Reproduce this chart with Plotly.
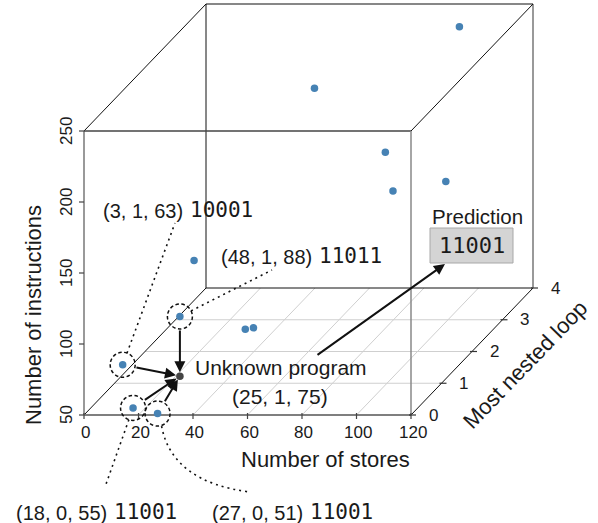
import math
import plotly.graph_objects as go

# ---------------- data ----------------
stores = [3, 18, 27, 24, 48, 51, 18, 51, 93, 77, 91, 88]
loops = [1, 0, 0, 1, 1, 1, 2, 3, 4, 3, 2, 4]
instrs = [63, 55, 51, 97, 88, 89, 114, 213, 234, 168, 163, 125]

unknown_stores = [24]
unknown_loops = [1]
unknown_instrs = [55]

x_ticks = [0, 20, 40, 60, 80, 100, 120]
y_ticks = [50, 100, 150, 200, 250]
z_ticks = [0, 1, 2, 3, 4]

neighbour_idx = [0, 3, 1, 2]
neighbour_tuple = ["(3, 1, 63)", "(48, 1, 88)", "(18, 0, 55)", "(27, 0, 51)"]
neighbour_code = ["10001", "11011", "11001", "11001"]
prediction_code = "11001"

# ---------------- projection (oblique) ----------------
W, H = 598, 523
SX, SY = 2.725, 1.42          # px per store / per instruction
OX, OY = 84, 415              # pixel of (0, 0, 50)
KX, KY = 30.5 / SX, 31.75 / SY  # loop-depth offset in data units


def proj(s, l, i):
    return s + l * KX, i + l * KY


def fx(px):
    return (px - OX) / SX


def fy(py):
    return 50 + (OY - py) / SY


def topx(s, l, i):
    X, Y = proj(s, l, i)
    return OX + X * SX, OY - (Y - 50) * SY


SANS = "Liberation Sans, Arial, Helvetica, sans-serif"
MONO = "DejaVu Sans Mono, Menlo, monospace"
TXT = "#1a1a1a"

fig = go.Figure()


def seg(p, q, color, width, dash="solid"):
    fig.add_trace(go.Scatter(x=[p[0], q[0]], y=[p[1], q[1]], mode="lines",
                             line=dict(color=color, width=width, dash=dash),
                             hoverinfo="skip", showlegend=False, cliponaxis=False))


# floor grid
for s in x_ticks[1:-1]:
    seg(proj(s, 0, 50), proj(s, 4, 50), "#cfcfcf", 1)
for l in z_ticks[1:-1]:
    seg(proj(0, l, 50), proj(120, l, 50), "#cfcfcf", 1.2)

# back / side edges
seg(proj(0, 4, 50), proj(0, 4, 250), "#111", 1)
seg(proj(0, 4, 250), proj(120, 4, 250), "#111", 1.2)
seg(proj(0, 4, 50), proj(120, 4, 50), "#111", 1)
seg(proj(120, 4, 50), proj(120, 4, 250), "#777", 1.5)
seg(proj(0, 0, 50), proj(0, 4, 50), "#111", 1)
seg(proj(120, 0, 50), proj(120, 4, 50), "#111", 1)
seg(proj(0, 0, 250), proj(0, 4, 250), "#111", 1)
seg(proj(120, 0, 250), proj(120, 4, 250), "#111", 1)

# front face
seg(proj(0, 0, 50), proj(120, 0, 50), "#555", 1.5)
seg(proj(0, 0, 50), proj(0, 0, 250), "#777", 1.5)
seg(proj(0, 0, 250), proj(120, 0, 250), "#444", 1.5)
seg(proj(120, 0, 50), proj(120, 0, 250), "#888", 1.5)

# ticks
for s in x_ticks:
    seg((s, 50 + 2 / SY), (s, 50 - 4 / SY), "#444", 1.2)
for i in y_ticks:
    seg((0, i), (-5 / SX, i), "#444", 1.2)
for l in z_ticks:
    X, Y = proj(120, l, 50)
    seg((X - 2 / SX, Y), (X + 5 / SX, Y), "#333", 1.2)

annotations = []


def text(px, py, t, size, font=SANS, angle=0, xanchor="center", color=TXT):
    annotations.append(dict(x=fx(px), y=fy(py), xref="x", yref="y", text=t,
                            showarrow=False, textangle=angle, xanchor=xanchor,
                            yanchor="middle",
                            font=dict(family=font, size=size, color=color)))


# tick labels
for s in x_ticks:
    px, _ = topx(s, 0, 50)
    text(px + 1.5, 432, str(s), 17)
for i in y_ticks:
    _, py = topx(0, 0, i)
    text(66, py, str(i), 17, angle=-90)
for l in z_ticks:
    px, py = topx(120, l, 50)
    text(px + 22, py, str(l), 17)

# axis titles
text(325.5, 459, "Number of stores", 22)
text(33, 315, "Number of instructions", 22, angle=-90)
text(525, 364, "Most nested loop", 22, angle=-46)

# points
px_, py_ = zip(*[proj(s, l, i) for s, l, i in zip(stores, loops, instrs)])
fig.add_trace(go.Scatter(x=list(px_), y=list(py_), mode="markers",
                         marker=dict(size=7.5, color="#4682b4"),
                         hoverinfo="skip", showlegend=False))
ux, uy = zip(*[proj(s, l, i) for s, l, i in zip(unknown_stores, unknown_loops, unknown_instrs)])
fig.add_trace(go.Scatter(x=list(ux), y=list(uy), mode="markers",
                         marker=dict(size=7.5, color="#444444"),
                         hoverinfo="skip", showlegend=False))

shapes = []
R = 12.5
upx = topx(unknown_stores[0], unknown_loops[0], unknown_instrs[0])

# label anchors (pixel) for the dotted leaders
leader_end = [(175, 223), (272, 270), (105, 487), None]
for k, idx in enumerate(neighbour_idx):
    cx, cy = topx(stores[idx], loops[idx], instrs[idx])
    shapes.append(dict(type="circle", xref="x", yref="y",
                       x0=fx(cx - R), x1=fx(cx + R), y0=fy(cy + R), y1=fy(cy - R),
                       line=dict(color="#111", width=1.5, dash="3.5px,2.5px")))
    # arrow from circle edge to the unknown program
    dx, dy = upx[0] - cx, upx[1] - cy
    n = math.hypot(dx, dy)
    sx0, sy0 = cx + R * dx / n, cy + R * dy / n
    annotations.append(dict(x=fx(upx[0]), y=fy(upx[1]), ax=fx(sx0), ay=fy(sy0),
                            xref="x", yref="y", axref="x", ayref="y", text="",
                            showarrow=True, arrowhead=2, arrowsize=1.1,
                            arrowwidth=2, arrowcolor="#111", standoff=4))
    # dotted leader
    if leader_end[k] is not None:
        ex, ey = leader_end[k]
        dx, dy = ex - cx, ey - cy
        n = math.hypot(dx, dy)
        bx, by = cx + R * dx / n, cy + R * dy / n
        shapes.append(dict(type="line", xref="x", yref="y",
                           x0=fx(bx), y0=fy(by), x1=fx(ex), y1=fy(ey),
                           line=dict(color="#111", width=1.6, dash="2px,4px")))
    else:
        bx, by = cx + 4, cy + R
        shapes.append(dict(type="path", xref="x", yref="y",
                           path=f"M {fx(bx)},{fy(by)} Q {fx(172)},{fy(482)} {fx(250)},{fy(492)}",
                           line=dict(color="#111", width=1.6, dash="2px,4px")))

# neighbour labels
lab_pos = [(185, 211), (314, 257), (109, 513), (305, 513)]
for (lx, ly), tup, code in zip(lab_pos, neighbour_tuple, neighbour_code):
    text(lx, ly, tup, 20, xanchor="right")
    text(lx + 3, ly - 1, code, 21, font=MONO, xanchor="left")

# unknown program label
text(281, 367, "Unknown program", 21)
text(280, 396, "(%d, %d, %d)" % (25, 1, 75), 21)

# prediction
text(477, 216, "Prediction", 20.5)
shapes.append(dict(type="rect", xref="x", yref="y", x0=fx(430), x1=fx(513),
                   y0=fy(263), y1=fy(228), fillcolor="#d4d4d4",
                   line=dict(color="#a8a8a8", width=1), layer="below"))
text(471.5, 245.5, prediction_code, 22, font=MONO)
annotations.append(dict(x=fx(445), y=fy(264), ax=fx(316), ay=fy(356),
                        xref="x", yref="y", axref="x", ayref="y", text="",
                        showarrow=True, arrowhead=2, arrowsize=1.1,
                        arrowwidth=2, arrowcolor="#111", standoff=0))

fig.update_layout(
    width=W, height=H, autosize=False,
    margin=dict(l=0, r=0, t=0, b=0, pad=0),
    paper_bgcolor="white", plot_bgcolor="white",
    xaxis=dict(range=[fx(0), fx(W)], visible=False, fixedrange=True),
    yaxis=dict(range=[fy(H), fy(0)], visible=False, fixedrange=True),
    shapes=shapes, annotations=annotations, showlegend=False,
)

fig.write_html("out.html", config={"displayModeBar": False},
               post_script="document.body.style.margin='0';"
                           "document.body.style.overflow='hidden';")
